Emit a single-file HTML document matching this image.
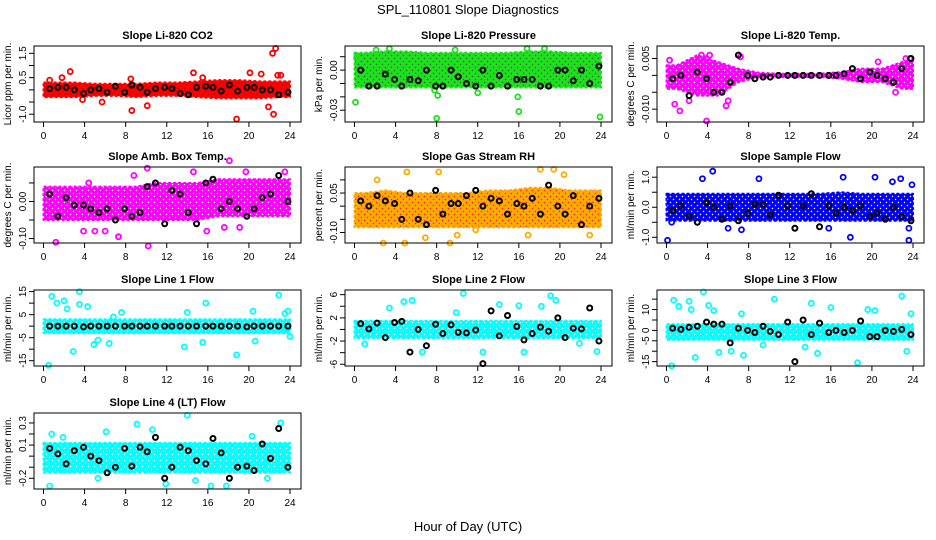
<!DOCTYPE html>
<html><head><meta charset="utf-8">
<style>
html,body{margin:0;padding:0;background:#fff;}
svg{display:block;font-family:"Liberation Sans","DejaVu Sans",sans-serif;}
</style></head>
<body>
<svg id="chart" width="936" height="540" viewBox="0 0 936 540">
<defs id="defs"></defs>
<text x="468" y="14" text-anchor="middle" font-size="13">SPL_110801  Slope Diagnostics</text>
<text x="468" y="531" text-anchor="middle" font-size="13">Hour of Day (UTC)</text>
</svg>
<script>
// ---- data ----
const xTicks = [0,4,8,12,16,20,24];
const blackX = [0.6,1.4,2.2,3.0,3.9,4.6,5.4,6.2,7.0,7.9,8.6,9.4,10.1,10.9,11.8,12.5,13.3,14.1,14.9,15.8,16.5,17.3,18.1,18.9,19.8,20.5,21.3,22.1,22.9,23.8];
const binX = [1,3,5,7,9,11,13,15,17,19,21,23];

const co2Lo = [-0.3,-0.3,-0.25,-0.25,-0.3,-0.25,-0.25,-0.3,-0.35,-0.35,-0.35,-0.3];
const co2Hi = [0.3,0.3,0.25,0.25,0.25,0.3,0.3,0.35,0.4,0.4,0.35,0.35];
const co2Black = [0.05,0.1,0.1,0,-0.15,0,0.05,-0.1,0.15,-0.1,0.2,0.1,-0.1,0.05,0.1,0.05,-0.15,-0.2,0.1,0.15,0.1,-0.05,0.2,-0.05,0.1,0.1,0,0,-0.2,-0.1];
const co2OutX = [2.6,1.8,8.6,10.1,14.6,18.8,20.1,21.2,22.3,22.6,22.4,22.8,23.1,21.9,8.5,15.5,0.6,5.7,3.8];
const co2OutY = [0.75,0.5,-0.85,-0.65,0.7,-1.2,0.7,0.65,1.5,1.7,-1.0,0.6,0.6,-0.7,0.45,0.5,0.4,-0.5,-0.4];

const presLo = [-0.013,-0.013,-0.013,-0.013,-0.013,-0.013,-0.013,-0.013,-0.013,-0.013,-0.013,-0.013];
const presHi = [0.013,0.014,0.014,0.013,0.013,0.013,0.013,0.013,0.014,0.014,0.013,0.013];
const presBlack = [0,-0.012,-0.012,-0.003,-0.007,-0.012,-0.007,-0.008,0,-0.012,-0.012,0,-0.005,-0.01,-0.012,0,-0.012,-0.004,-0.012,-0.007,-0.007,-0.007,-0.012,-0.012,0,0,-0.008,0,-0.01,0.003];
const presOutX = [0.1,8.0,16.0,23.9,15.9,8.1,12.0,3.4,16.8,18.5,2.1,9.8,0.2,7.8];
const presOutY = [-0.024,-0.036,-0.031,-0.035,-0.02,-0.019,-0.017,0.016,0.016,0.016,0.015,0.015,0.009,-0.015];

const tempLo = [-0.004,-0.006,-0.006,-0.002,-0.0005,-0.0005,-0.0005,-0.0005,-0.001,-0.002,-0.002,-0.004];
const tempHi = [0.003,0.006,0.004,0.002,0.0008,0.0005,0.0005,0.0005,0.001,0.002,0.002,0.004];
const tempBlack = [-0.001,0,-0.006,0.001,-0.001,-0.005,-0.005,-0.002,0.006,0,-0.001,-0.0005,-0.0005,0,0,0,0,0,0,0,0,0.0005,0.002,-0.001,0.001,0,-0.001,-0.002,0.002,0.005];
const tempOutX = [3.9,1.3,0.8,3.9,3.4,4.2,5.8,6.0,7.2,0.3,23.7,22.3,2.2,20.6,23.3];
const tempOutY = [-0.0135,-0.0105,-0.0085,0.005,0.006,0.006,-0.009,-0.0075,0.0055,0.0045,0.005,-0.005,-0.0075,0.004,0.005];

const ambLo = [-0.05,-0.05,-0.05,-0.05,-0.05,-0.05,-0.05,-0.05,-0.04,-0.04,-0.04,-0.04];
const ambHi = [0.04,0.04,0.04,0.04,0.04,0.05,0.05,0.05,0.06,0.06,0.06,0.06];
const ambBlack = [0.02,-0.04,0.01,-0.01,-0.01,-0.02,-0.03,-0.02,-0.05,-0.02,-0.04,-0.03,0.04,0.05,-0.06,0.03,0.02,-0.03,-0.06,0.05,0.06,-0.02,0,-0.02,-0.04,-0.02,0.01,0.02,0.07,0];
const ambOutX = [18.1,10.2,7.3,3.9,5.0,15.9,4.4,8.8,10.1,14.6,23.5,19.7,1.2,6.0,17.6,19.1];
const ambOutY = [0.11,-0.12,-0.095,-0.08,-0.08,-0.08,0.05,0.07,0.09,0.08,0.08,0.08,-0.11,-0.08,-0.07,-0.07];

const rhLo = [-0.08,-0.08,-0.08,-0.08,-0.08,-0.08,-0.08,-0.08,-0.08,-0.08,-0.08,-0.08];
const rhHi = [0.05,0.06,0.05,0.05,0.05,0.05,0.06,0.06,0.07,0.07,0.06,0.06];
const rhBlack = [0.02,0,0.04,0.02,0.01,-0.05,0.05,-0.05,-0.07,0.06,-0.03,0.01,0.01,0.04,0.06,0,0.03,0.02,-0.03,0.01,0,0.03,-0.03,0.08,0,-0.03,0.04,-0.07,0,0.03];
const rhOutX = [5.1,2.8,4.9,9.3,6.9,10.0,18.1,19.4,20.4,8.2,2.2,11.8,22.9,16.9];
const rhOutY = [0.13,-0.14,-0.14,-0.14,-0.12,-0.11,0.14,0.14,0.12,0.13,0.1,-0.09,-0.11,-0.11];

const sfLo = [-0.45,-0.45,-0.45,-0.45,-0.45,-0.45,-0.45,-0.45,-0.45,-0.45,-0.45,-0.45];
const sfHi = [0.45,0.45,0.45,0.45,0.45,0.45,0.45,0.45,0.5,0.45,0.45,0.45];
const sfBlack = [-0.1,0.05,-0.3,-0.5,0.15,0,-0.4,0.05,-0.45,-0.2,0.1,0.1,-0.25,0.4,0.05,-0.7,0.05,0.45,-0.65,0.05,-0.2,0,-0.1,0.05,-0.3,-0.2,-0.4,0,-0.3,-0.45];
const sfOutX = [0.1,4.5,3.5,9.0,17.2,20.3,22.0,22.8,17.9,23.6,23.6,23.9,0.5,7.3,6.0,15.8];
const sfOutY = [-1.1,1.2,0.95,0.95,1.0,1.0,0.85,0.95,-1.0,-1.1,-0.7,0.75,-0.5,-0.75,-0.7,-0.7];

const l1Lo = [-3,-3,-3,-3,-3,-3,-3,-3,-3,-3,-3,-3];
const l1Hi = [3,3,3,3,3,3,3,3,3,3,3,3];
const l1Black = [0,0,0,0,-0.3,0,0,0,0,0,0,0,0,0,0,0,0,0,0,0,0,0,0,0,-0.3,0,0,0,0,0];
const l1OutX = [0.5,0.8,1.3,2.0,2.3,2.9,3.5,3.5,4.3,4.9,5.3,6.4,6.8,7.6,13.7,15.5,15.8,18.8,20.6,22.9,23.5,23.8,24.0,20.4,14.0];
const l1OutY = [-17,13,10,11,7.5,-11,15,9.5,8.5,-8,-6,-7.5,4,6,-9,-7,10,-12.5,-6.5,13.5,5.5,6.5,-4.5,6.5,6];

const l2Lo = [-1.5,-1.5,-1.5,-1.5,-1.5,-1.5,-1.5,-1.5,-1.5,-1.5,-1.5,-1.5];
const l2Hi = [1.5,1.5,1.5,1.5,1.5,1.5,1.5,1.5,1.5,1.5,1.5,1.5];
const l2Black = [1,0.1,1.1,-1.4,1.2,1.4,-3.9,0,-2.8,0.9,-0.7,0.8,-0.5,-0.6,-0.1,-5.9,3.2,-1.1,2.4,0.5,-1.8,-0.7,0.4,-0.3,2.0,-1.4,0.2,0.1,3.7,-2.0];
const l2OutX = [10.6,19.1,5.6,4.8,3.4,14.1,16.0,18.2,19.6,1.0,6.6,12.5,16.5,21.9,23.6,9.9];
const l2OutY = [6.2,5.8,5.0,4.8,3.7,4.3,4.1,4.0,5.0,-2.5,-3.9,-3.9,-3.9,-2.4,-3.8,2.9];

const l3Lo = [-4.5,-4.5,-4.5,-4.5,-4.5,-4.5,-4.5,-4.5,-4.5,-4.5,-4.5,-4.5];
const l3Hi = [3,3,3,3,3,3,3,3,3,3,3,3];
const l3Black = [1,0.5,1.5,2,4,3,3,-6,1,0,-1,2,-0.5,-2,4,-15,5,-2,3.5,-1,0,-1,0,4.5,-3,-3,0,-0.5,0.5,-2];
const l3OutX = [0.5,0.7,1.2,2.2,2.4,2.8,3.6,4.1,4.6,5.1,6.3,7.5,7.3,9.4,10.5,13.5,14.1,14.7,16.0,18.6,22.9,23.4,23.8,19.6,20.3];
const l3OutY = [-17,14.5,11.5,14,10,-13,18.5,12,9.5,-10.5,-10,-12,8,-7,15,-8,13,-11,11,-15.5,16.5,-10,8,10,9.5];

const l4Lo = [-0.15,-0.15,-0.15,-0.15,-0.15,-0.15,-0.15,-0.15,-0.15,-0.15,-0.15,-0.15];
const l4Hi = [0.12,0.12,0.12,0.12,0.12,0.12,0.12,0.12,0.12,0.12,0.12,0.12];
const l4Black = [0.07,0.02,-0.07,0.05,0.08,0,-0.04,-0.15,-0.1,0.07,-0.09,0.08,0.04,0.17,-0.2,-0.1,0.08,0.05,-0.04,-0.07,0.16,0.03,-0.2,-0.1,-0.09,-0.13,0.11,-0.02,0.25,-0.1];
const l4OutX = [14.0,23.1,9.1,10.6,6.1,0.6,5.3,11.9,16.3,17.8,14.8,21.8,0.8,20.3,1.9];
const l4OutY = [0.37,0.3,0.29,0.24,0.22,-0.27,-0.2,-0.25,-0.27,-0.27,-0.22,-0.2,0.2,0.18,0.17];

// ---- panel layout ----
const panels = [
 {name:'co2',title:'Slope Li-820 CO2',ylab:'Licor ppm per min.',L:34,T:46,ymin:-1.32,ymax:1.8,ticks:[-1,-0.5,0,0.5,1,1.5],labs:{'-1':'-1.0','0.5':'0.5','1.5':'1.5'},col:'#ff0000',tex:'#cc0000',lo:co2Lo,hi:co2Hi,bk:co2Black,ox:co2OutX,oy:co2OutY},
 {name:'pressure',title:'Slope Li-820 Pressure',ylab:'kPa per min.',L:345,T:46,ymin:-0.0388,ymax:0.018,ticks:[-0.03,-0.02,-0.01,0,0.01],labs:{'-0.03':'-0.03','0':'0.00'},col:'#1ee01e',tex:'#0a6a0a',lo:presLo,hi:presHi,bk:presBlack,ox:presOutX,oy:presOutY},
 {name:'li820-temp',title:'Slope Li-820 Temp.',ylab:'degrees C per min.',L:657,T:46,ymin:-0.0138,ymax:0.0087,ticks:[-0.01,-0.005,0,0.005],labs:{'-0.01':'-0.010','0.005':'0.005'},col:'#ff00ff',tex:'#ffffff',lo:tempLo,hi:tempHi,bk:tempBlack,ox:tempOutX,oy:tempOutY},
 {name:'amb-box-temp',title:'Slope Amb. Box Temp.',ylab:'degrees C per min.',L:34,T:167,ymin:-0.112,ymax:0.093,ticks:[-0.1,-0.05,0,0.05],labs:{'-0.1':'-0.10','0':'0.00'},col:'#ff00ff',tex:'#ffffff',lo:ambLo,hi:ambHi,bk:ambBlack,ox:ambOutX,oy:ambOutY},
 {name:'gas-stream-rh',title:'Slope Gas Stream RH',ylab:'percent per min.',L:345,T:167,ymin:-0.14,ymax:0.149,ticks:[-0.1,-0.05,0,0.05,0.1],labs:{'-0.1':'-0.10','0.05':'0.05'},col:'#ffaa00',tex:'#ee2200',lo:rhLo,hi:rhHi,bk:rhBlack,ox:rhOutX,oy:rhOutY},
 {name:'sample-flow',title:'Slope Sample Flow',ylab:'ml/min per min.',L:657,T:167,ymin:-1.19,ymax:1.34,ticks:[-1,-0.5,0,0.5,1],labs:{'-1':'-1.0','0':'0.0','1':'1.0'},col:'#0000ff',tex:'#ffffff',lo:sfLo,hi:sfHi,bk:sfBlack,ox:sfOutX,oy:sfOutY},
 {name:'line1-flow',title:'Slope Line 1 Flow',ylab:'ml/min per min.',L:34,T:290,ymin:-17.3,ymax:15.7,ticks:[-15,-10,-5,0,5,10,15],labs:{'-15':'-15','-5':'-5','5':'5','15':'15'},col:'#00ffff',tex:'#ffffff',lo:l1Lo,hi:l1Hi,bk:l1Black,ox:l1OutX,oy:l1OutY},
 {name:'line2-flow',title:'Slope Line 2 Flow',ylab:'ml/min per min.',L:345,T:290,ymin:-6.3,ymax:6.8,ticks:[-6,-4,-2,0,2,4,6],labs:{'-6':'-6','-2':'-2','2':'2','6':'6'},col:'#00ffff',tex:'#ffffff',lo:l2Lo,hi:l2Hi,bk:l2Black,ox:l2OutX,oy:l2OutY},
 {name:'line3-flow',title:'Slope Line 3 Flow',ylab:'ml/min per min.',L:657,T:290,ymin:-17.1,ymax:19.4,ticks:[-15,-10,-5,0,5,10,15],labs:{'-15':'-15','-5':'-5','0':'0','10':'10'},col:'#00ffff',tex:'#ffffff',lo:l3Lo,hi:l3Hi,bk:l3Black,ox:l3OutX,oy:l3OutY},
 {name:'line4-flow',title:'Slope Line 4 (LT) Flow',ylab:'ml/min per min.',L:34,T:413,ymin:-0.297,ymax:0.39,ticks:[-0.2,-0.1,0,0.1,0.2,0.3],labs:{'-0.2':'-0.2','0.1':'0.1','0.3':'0.3'},col:'#00ffff',tex:'#ffffff',lo:l4Lo,hi:l4Hi,bk:l4Black,ox:l4OutX,oy:l4OutY}
];
const W = 267, H = 76;
const NS = 'http://www.w3.org/2000/svg';
const svg = document.getElementById('chart');
const defs = document.getElementById('defs');
function mk(tag, attrs, parent){
  const e = document.createElementNS(NS, tag);
  for (const k in attrs) e.setAttribute(k, attrs[k]);
  parent.appendChild(e); return e;
}
panels.forEach((p, pi) => {
  // texture pattern for the dense point cloud
  const pat = mk('pattern', {id:'tex'+pi, width:6, height:6, patternUnits:'userSpaceOnUse'}, defs);
  mk('rect', {x:0, y:0, width:6, height:6, fill:p.col}, pat);
  mk('circle', {cx:1.5, cy:1.5, r:0.7, fill:p.tex}, pat);
  mk('circle', {cx:4.5, cy:4.5, r:0.7, fill:p.tex}, pat);

  const g = mk('g', {}, svg);
  
  
  const xs = h => p.L + 9.5 + h * (W - 20.5) / 24;
  const ys = v => p.T + (p.ymax - v) / (p.ymax - p.ymin) * H;
  let pts = [];
  pts.push([xs(0), ys(p.hi[0])]);
  binX.forEach((b,i) => pts.push([xs(b), ys(p.hi[i])]));
  pts.push([xs(24), ys(p.hi[p.hi.length-1])]);
  pts.push([xs(24), ys(p.lo[p.lo.length-1])]);
  for (let i = binX.length-1; i >= 0; i--) pts.push([xs(binX[i]), ys(p.lo[i])]);
  pts.push([xs(0), ys(p.lo[0])]);
  const band = mk('polygon', {points: pts.map(q=>q.join(',')).join(' '), fill:'url(#tex'+pi+')', stroke:p.col, 'stroke-width':2, 'stroke-dasharray':'3 2', 'stroke-linejoin':'round'}, g);
  
  
  p.ox.forEach((x,i) => {
    const c = mk('circle', {cx:xs(x), cy:ys(p.oy[i]), r:2.5, fill:'none', stroke:p.col, 'stroke-width':1.8}, g);
    
    
  });
  p.bk.forEach((v,i) => {
    const c = mk('circle', {cx:xs(blackX[i]), cy:ys(v), r:2.5, fill:'none', stroke:'#000', 'stroke-width':2}, g);
    
    
  });
  const box = mk('rect', {x:p.L, y:p.T, width:W, height:H, fill:'none', stroke:'#000', 'stroke-width':1}, g);
  
  
  mk('line', {x1:xs(0), x2:xs(24), y1:p.T+H, y2:p.T+H, stroke:'#000'}, g);
  xTicks.forEach(t => {
    mk('line', {x1:xs(t), x2:xs(t), y1:p.T+H, y2:p.T+H+5, stroke:'#000'}, g);
    const tx = mk('text', {x:xs(t), y:p.T+H+17, 'text-anchor':'middle', 'font-size':10}, g);
    tx.textContent = t;
    
    
  });
  p.ticks.forEach(t => {
    mk('line', {x1:p.L-5, x2:p.L, y1:ys(t), y2:ys(t), stroke:'#000'}, g);
    const lab = p.labs[String(t)];
    if (lab !== undefined) {
      const tx = mk('text', {x:p.L-8, y:ys(t), 'text-anchor':'middle', 'font-size':10, transform:`rotate(-90 ${p.L-8} ${ys(t)})`}, g);
      tx.textContent = lab;
      
      
    }
  });
  const yl = mk('text', {x:p.L-23, y:p.T+H/2, 'text-anchor':'middle', 'font-size':10, transform:`rotate(-90 ${p.L-23} ${p.T+H/2})`}, g);
  yl.textContent = p.ylab;
  
  
  const tt = mk('text', {x:p.L+W/2, y:p.T-7, 'text-anchor':'middle', 'font-size':11, 'font-weight':'bold'}, g);
  tt.textContent = p.title;
  
  
});
</script>
</body></html>
